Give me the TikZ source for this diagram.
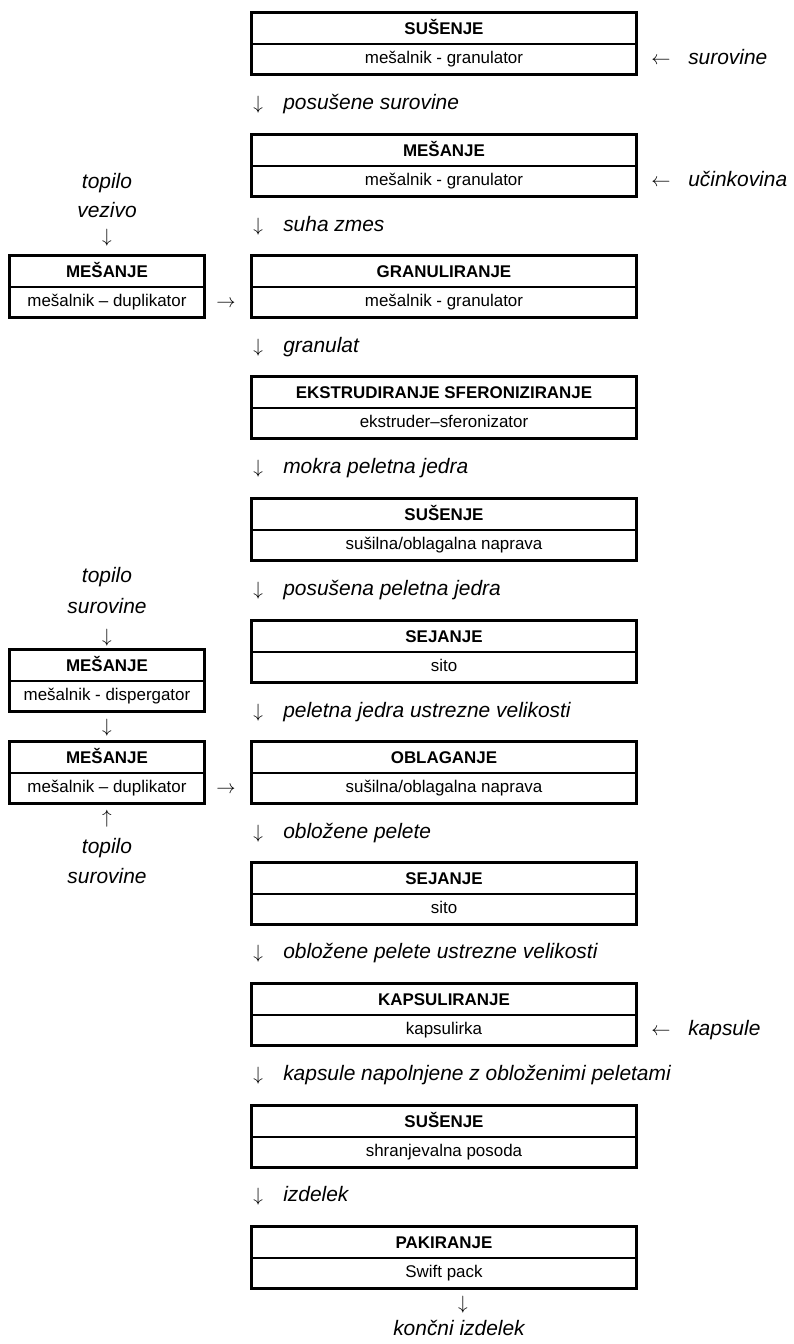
\documentclass[tikz,border=0pt]{standalone}
\usepackage{fontspec}
\setmainfont{Liberation Sans}

\newcommand\boxfont{\fontsize{12.7}{15}\selectfont}
\newcommand\lblfont{\fontsize{15.7}{18}\selectfont}

\tikzset{
  boxtop/.style={minimum height=23.25pt, inner sep=0pt, text height=9.1pt, text depth=0pt, font=\boxfont\bfseries},
  boxsub/.style={minimum height=22.5pt, inner sep=0pt, text height=9.2pt, text depth=2.6pt, font=\boxfont},
  frame/.style={line width=2.3pt},
  divider/.style={line width=1.4pt},
  lbl/.style={inner sep=0pt, text height=11.3pt, text depth=3.3pt, font=\lblfont\itshape},
}

% name, x, top, width, title, equipment
\newcommand\procbox[6]{%
  \node[boxtop, minimum width=#4] (#1t) at (#2,#3+15.5) {#5};
  \node[boxsub, minimum width=#4] (#1s) at (#2,#3+46) {#6};
  \draw[divider] (#1t.south west) -- (#1t.south east);
  \draw[frame] (#1t.north west) rectangle (#1s.south east);
}

\begin{document}
\begin{tikzpicture}[x=0.75pt,y=-0.75pt]
\useasboundingbox (0,0) rectangle (793,1344);

% main line
\foreach \y/\ttl/\sub [count=\i] in {
  13/SUŠENJE/mešalnik - granulator,
  135/MEŠANJE/mešalnik - granulator,
  256/GRANULIRANJE/mešalnik - granulator,
  377/EKSTRUDIRANJE SFERONIZIRANJE/ekstruder–sferonizator,
  499/SUŠENJE/{sušilna/oblagalna naprava},
  621/SEJANJE/sito,
  742/OBLAGANJE/{sušilna/oblagalna naprava},
  863/SEJANJE/sito,
  984/KAPSULIRANJE/kapsulirka,
  1106/SUŠENJE/shranjevalna posoda,
  1227/PAKIRANJE/Swift pack} {
  \procbox{m\i}{444}{\y}{288pt}{\ttl}{\sub}
}

\foreach \y/\txt [count=\i] in {
  104.5/posušene surovine,
  226/suha zmes,
  347/granulat,
  468.5/mokra peletna jedra,
  590.5/posušena peletna jedra,
  712/peletna jedra ustrezne velikosti,
  833/obložene pelete,
  953/obložene pelete ustrezne velikosti,
  1075/kapsule napolnjene z obloženimi peletami,
  1196.5/izdelek} {
  \node[lbl, anchor=west] (f\i) at (253,\y) {\makebox[22.5pt][l]{$\downarrow$}\txt};
}

\node[lbl] (dend) at (463,1304) {$\downarrow$};
\node[lbl] (kon) at (459,1330) {končni izdelek};

% inputs from the right
\node[lbl] (r1) at (661,59) {$\leftarrow$};
\node[lbl, anchor=west] (in1) at (688,59) {surovine};
\node[lbl] (r2) at (661,181) {$\leftarrow$};
\node[lbl, anchor=west] (in2) at (688,181) {učinkovina};
\node[lbl] (r9) at (661,1030) {$\leftarrow$};
\node[lbl, anchor=west] (in9) at (688,1030) {kapsule};

% side line, binder
\node[lbl] (t1) at (107,183) {topilo};
\node[lbl] (v1) at (107,212) {vezivo};
\node[lbl] (d1) at (107,237) {$\downarrow$};
\procbox{l1}{107}{256}{145.5pt}{MEŠANJE}{mešalnik – duplikator}
\node[lbl] (a1) at (226,302) {$\rightarrow$};

% side line, coating
\node[lbl] (t2) at (107,577) {topilo};
\node[lbl] (s2) at (107,608) {surovine};
\node[lbl] (d2) at (107,637) {$\downarrow$};
\procbox{l2}{107}{650}{145.5pt}{MEŠANJE}{mešalnik - dispergator}
\node[lbl] (d3) at (107,727) {$\downarrow$};
\procbox{l3}{107}{742}{145.5pt}{MEŠANJE}{mešalnik – duplikator}
\node[lbl] (a3) at (226,788) {$\rightarrow$};
\node[lbl] (u3) at (107,818) {$\uparrow$};
\node[lbl] (t3) at (107,848) {topilo};
\node[lbl] (s3) at (107,878) {surovine};
\end{tikzpicture}
\end{document}
